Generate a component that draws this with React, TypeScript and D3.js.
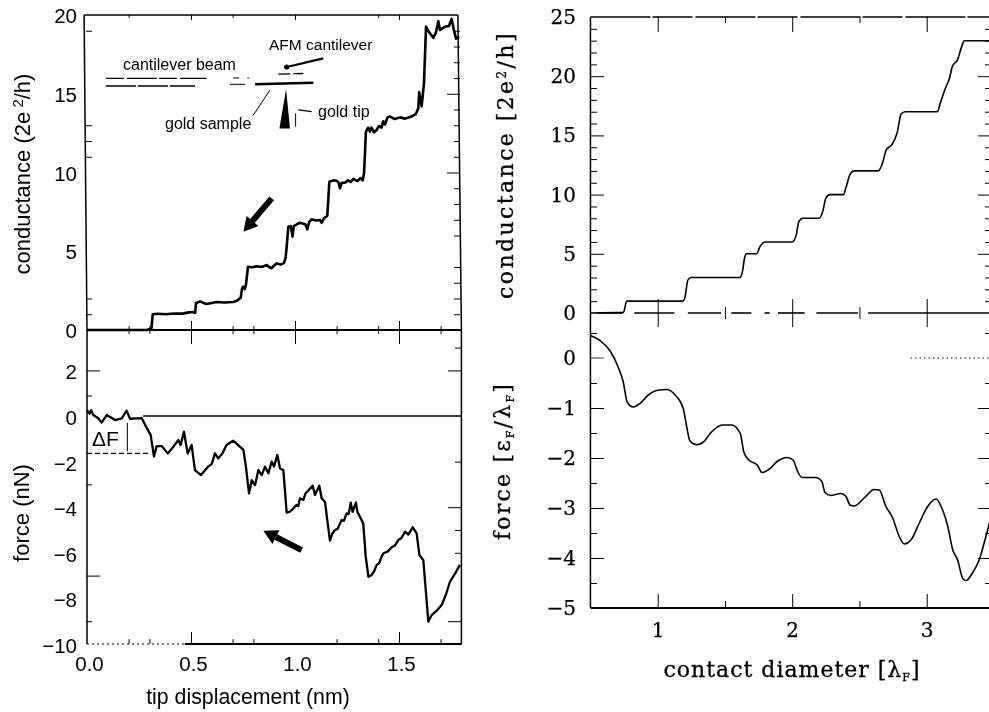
import React, {useEffect, useRef} from 'react';
import * as d3 from 'd3';

type Pt = [number, number];

const sansFont = '"Liberation Sans", Arial, sans-serif';
const serifFont = '"DejaVu Serif", serif';

// left panels: measured conductance and force against tip displacement
const measuredConductance: Pt[] = [
  [0, 0], [.287, 0], [.31, .1], [.316, 1], [.34, 1.03], [.38, 1], [.42, 1.05], [.46, 1.04], [.49, 1.12], [.511, 1.14],
  [.52, 1.08], [.524, 1.7], [.543, 1.82], [.56, 1.72], [.575, 1.65], [.6, 1.72], [.623, 1.78], [.66, 1.75], [.703, 1.78],
  [.72, 1.85], [.739, 2.05], [.745, 2.6], [.751, 2.75], [.758, 2.6], [.764, 2.85], [.774, 4.02], [.795, 3.98],
  [.816, 4.05], [.84, 4], [.864, 4.13], [.875, 4], [.888, 3.92], [.9, 4.1], [.912, 4.23], [.93, 4.15], [.947, 4.25],
  [.955, 4.6], [.96, 5.29], [.968, 6.56], [.98, 6.6], [.988, 5.93], [.994, 6.6], [1.01, 6.72], [1.024, 6.81],
  [1.04, 6.75], [1.05, 6.7], [1.059, 6.39], [1.068, 6.85], [1.08, 7.03], [1.1, 6.95], [1.12, 6.98], [1.128, 6.8],
  [1.14, 7.1], [1.155, 7.24], [1.16, 8.25], [1.165, 9.42], [1.185, 9.5], [1.2, 9.48], [1.21, 9.35], [1.216, 9],
  [1.225, 9.35], [1.24, 9.35], [1.255, 9.5], [1.268, 9.4], [1.28, 9.6], [1.3, 9.45], [1.315, 9.65], [1.325, 9.5],
  [1.332, 9.95], [1.341, 12.6], [1.352, 12.85], [1.36, 12.6], [1.368, 12.85], [1.38, 12.55], [1.392, 12.7],
  [1.404, 12.95], [1.416, 12.85], [1.424, 13.25], [1.432, 13.05], [1.445, 13.5], [1.456, 13.55], [1.48, 13.4],
  [1.505, 13.5], [1.53, 13.42], [1.56, 13.55], [1.58, 13.7], [1.593, 14.07], [1.597, 15.1], [1.609, 14.2],
  [1.62, 15.66], [1.63, 19.26], [1.645, 18.9], [1.665, 18.55], [1.678, 18.9], [1.689, 19.6], [1.697, 19.05],
  [1.72, 19.25], [1.74, 19.3], [1.753, 19.75], [1.764, 19.05], [1.774, 18.5], [1.79, 18.6],
];
const measuredForce: Pt[] = [
  [0, .26], [.012, .1], [.02, .25], [.03, .04], [.054, -.1], [.07, -.29], [.095, .04], [.135, -.18], [.167, -.1],
  [.19, .23], [.207, -.12], [.263, -.09], [.284, -.47], [.306, -.83], [.322, -1.78], [.335, -1.32], [.359, -1.32],
  [.388, -1.64], [.415, -1.35], [.439, -1.05], [.45, -1.27], [.466, -.69], [.484, -1.64], [.503, -1.27], [.519, -2.37],
  [.548, -2.59], [.583, -2.22], [.6, -2.1], [.615, -1.64], [.631, -1.86], [.65, -1.65], [.671, -1.27], [.703, -1.08],
  [.752, -1.49], [.764, -2.22], [.779, -3.39], [.792, -2.81], [.808, -3.03], [.824, -2.37], [.84, -2.59], [.856, -2.22],
  [.872, -2.51], [.888, -2], [.899, -2.22], [.915, -1.71], [.928, -2.3], [.944, -2.37], [.96, -4.24], [.975, -4.2],
  [.992, -4.05], [1.008, -3.9], [1.016, -3.95], [1.024, -3.61], [1.04, -3.68], [1.05, -3.4], [1.064, -3.27],
  [1.085, -3.06], [1.096, -3.46], [1.117, -3.06], [1.128, -3.61], [1.144, -3.76], [1.168, -5.47], [1.18, -5.15],
  [1.192, -5], [1.205, -4.95], [1.224, -4.56], [1.235, -4.6], [1.248, -4.27], [1.258, -4.3], [1.268, -3.8],
  [1.277, -4.2], [1.293, -3.8], [1.3, -4.2], [1.328, -4.71], [1.34, -6.17], [1.353, -7.05], [1.369, -6.97],
  [1.381, -6.8], [1.393, -6.53], [1.405, -6.45], [1.415, -6.2], [1.425, -6.02], [1.445, -5.95], [1.465, -5.76],
  [1.48, -5.68], [1.497, -5.44], [1.512, -5.35], [1.529, -5.07], [1.545, -5.2], [1.566, -4.88], [1.585, -5.15],
  [1.598, -6.1], [1.617, -6.32], [1.641, -9.02], [1.657, -8.73], [1.68, -8.55], [1.705, -8.29], [1.725, -7.85],
  [1.745, -7.27], [1.77, -6.9], [1.793, -6.53],
];

// right panels: calculated curves against contact diameter
const theoryConductance: Pt[] = [
  [.5, 0], [.745, .05], [.77, 1], [.79, 1], [1.186, 1], [1.2, 1.2], [1.225, 2.8], [1.25, 3], [1.61, 3], [1.63, 3.5],
  [1.645, 4.6], [1.66, 5], [1.735, 5], [1.76, 5.6], [1.8, 6], [2, 6], [2.03, 6.6], [2.05, 7.75], [2.08, 8], [2.2, 8],
  [2.23, 8.7], [2.25, 9.7], [2.28, 10], [2.38, 10], [2.4, 10.6], [2.43, 11.7], [2.46, 12], [2.64, 12], [2.67, 12.6],
  [2.7, 13.8], [2.74, 14.2], [2.78, 15.2], [2.81, 16.8], [2.84, 17], [3.08, 17], [3.1, 17.7], [3.14, 19],
  [3.17, 19.85], [3.19, 20.8], [3.23, 21.4], [3.26, 22.5], [3.28, 23], [3.49, 23],
];
const theoryForce: Pt[] = [
  [.5, .45], [.57, .35], [.644, .15], [.706, -.18], [.744, -.48], [.773, -.88], [.818, -.98], [.868, -.91],
  [.93, -.74], [1, -.645], [1.067, -.63], [1.13, -.74], [1.19, -1.01], [1.216, -1.38], [1.24, -1.66], [1.29, -1.735],
  [1.34, -1.68], [1.4, -1.48], [1.48, -1.34], [1.55, -1.34], [1.614, -1.51], [1.64, -1.875], [1.677, -2.04],
  [1.74, -2.14], [1.776, -2.29], [1.826, -2.23], [1.888, -2.07], [1.963, -1.99], [2.007, -2.04], [2.04, -2.27],
  [2.075, -2.39], [2.174, -2.39], [2.22, -2.47], [2.244, -2.69], [2.286, -2.75], [2.36, -2.71], [2.4, -2.77],
  [2.43, -2.94], [2.46, -2.96], [2.535, -2.8], [2.61, -2.63], [2.647, -2.64], [2.697, -2.97], [2.747, -3.2],
  [2.796, -3.57], [2.833, -3.72], [2.883, -3.64], [2.945, -3.3], [3.007, -2.97], [3.07, -2.82], [3.107, -2.97],
  [3.157, -3.37], [3.194, -3.84], [3.23, -4.04], [3.27, -4.42], [3.294, -4.45], [3.34, -4.3], [3.39, -4.04],
  [3.44, -3.57], [3.48, -3.17],
];

// tick labels
const leftGLabels = [0, 5, 10, 15, 20];
const leftFLabels = [2, 0, -2, -4, -6, -8, -10];
const leftXLabels = [0, .5, 1, 1.5];
const rightGLabels = [0, 5, 10, 15, 20, 25];
const rightFLabels = [0, -1, -2, -3, -4, -5];
const rightXLabels = [1, 2, 3];

// tick marks that survive in the scan
const leftXMajor = [.5, 1, 1.5];
const leftXMinor = [.2, .3, .7, .8, 1.2, 1.4, 1.7];
const leftGMinorLeft = [19, 13, 12, 11, 2, 1];
const leftGMinorRight = [19, 18, 17, 16, 14, 13, 12, 11, 9, 8, 7, 6, 4, 3, 2, 1];
const leftGMajorRight = [15, 10];
const leftFMajorLeft = [2, -7];
const leftFMinorLeft = [.9, -3, -9];
const leftFMajorRight = [2, -4, -9];
const leftFMinorRight = [3, -5, -2, -6];
const rightXMajor = [1, 2, 3];
const rightXMinor = [1.5, 2.5];
const rightGMajor = [5, 10, 15, 20];
const rightGMinor = [1, 2, 3, 4, 6, 7, 8, 9, 11, 12, 13, 14, 16, 17, 18, 19, 21, 22, 23, 24];
const rightFMajor = [-1, -2, -3, -4];
const rightFMinor = [.5, -.5, -1.5, -2.5, -3.5, -4.5];

// pieces of the broken zero line in the right conductance panel
const rightZeroDashes: Pt[] = [[.553, .74], [.826, 1.124], [1.224, 1.472], [1.547, 1.696], [1.795, 1.832], [1.894, 2.093], [2.18, 2.49], [2.565, 3.5]];

// inset sketch and arrows, in the units of the left panels
const beamUpper: Pt[] = [[.091, 15.98], [.575, 15.98]];
const beamUpperRest: Pt[] = [[.703, 16], [.78, 16]];
const beamLower: Pt[] = [[.091, 15.49], [.519, 15.49]];
const beamLowerRest: Pt[] = [[.6875, 15.6], [.76, 15.6]];
const goldSampleBar: Pt[] = [[.808, 15.6], [1.088, 15.7]];
const afmBar: Pt[] = [[.92, 16.25], [1.088, 16.3]];
const afmPointer: Pt[] = [[1.136, 17.25], [.96, 16.7]];
const sampleLeader: Pt[] = [[.88, 15.24], [.8, 13.65]];
const tipShape: Pt[] = [[.957, 15.28], [.925, 12.8], [.976, 12.8]];
const tipBracket: Pt[] = [[1.003, 12.9], [1.003, 13.76]];
const tipLeader: Pt[] = [[1.016, 13.97], [1.08, 13.86]];
const conductanceArrow: Pt[] = [[.888, 8.36], [.752, 6.24]];
const forceArrow: Pt[] = [[1.032, -5.88], [.848, -5.03]];
const forceZero: Pt[] = [[.27, 0], [1.8, 0]];
const deltaDash: Pt[] = [[0, -1.64], [.3, -1.64]];
const deltaBar: Pt[] = [[.194, -.3], [.194, -1.55]];

function App() {
  const svgRef = useRef<SVGSVGElement>(null);

  useEffect(() => {
    const root = d3.select(svgRef.current);
    root.selectAll('*').remove();

    // the reference is a soft scan
    root.append('defs').append('filter').attr('id', 'scan')
      .append('feGaussianBlur').attr('stdDeviation', .4);
    const svg = root.append('g').attr('filter', 'url(#scan)');
    svg.append('rect').attr('width', 989).attr('height', 712).attr('fill', '#fff');

    const lx = d3.scaleLinear().domain([0, 1.8]).range([87, 461.4]);
    const lyG = d3.scaleLinear().domain([0, 20]).range([330, 15]);
    const lyF = d3.scaleLinear().domain([0, -10]).range([416, 644]);
    const rx = d3.scaleLinear().domain([1, 3]).range([657.7, 926.7]);
    const ryG = d3.scaleLinear().domain([0, 25]).range([313, 17]);
    const ryF = d3.scaleLinear().domain([0, -5]).range([358, 608]);

    const path = (pts: Pt[], xs: any, ys: any, width: number, dash?: string, curve?: any) => {
      const gen = d3.line<Pt>().x(d => xs(d[0])).y(d => ys(d[1]));
      if (curve) gen.curve(curve);
      svg.append('path').attr('d', gen(pts)).attr('fill', 'none').attr('stroke', '#000')
        .attr('stroke-width', width).attr('stroke-dasharray', dash ?? null).attr('stroke-linejoin', 'round');
    };

    // draws only tick marks, labels come from labels()
    const ticks = (axis: any, scale: any, values: number[], len: number, x: number, y: number, width = 1) => {
      const g = svg.append('g').attr('transform', `translate(${x},${y})`)
        .call(axis(scale).tickValues(values).tickSize(len).tickFormat(() => ''));
      g.select('.domain').remove();
      g.selectAll('line').attr('stroke', '#000').attr('stroke-width', width);
    };

    const labels = (axis: any, scale: any, values: number[], fmt: string, x: number, y: number, font: string, size: number, weight = 0) => {
      const g = svg.append('g').attr('transform', `translate(${x},${y})`)
        .call(axis(scale).tickValues(values).tickSize(0).tickPadding(0).tickFormat(d3.format(fmt)));
      g.select('.domain').remove();
      g.selectAll('line').remove();
      g.selectAll('text').attr('fill', '#000').attr('stroke', weight ? '#000' : null).attr('stroke-width', weight || null)
        .style('font-family', font).style('font-size', size + 'px');
    };

    const text = (s: string, x: number, y: number, size: number, font = sansFont) =>
      svg.append('text').attr('x', x).attr('y', y).attr('fill', '#000').style('font-family', font).style('font-size', size + 'px').text(s);

    const arrow = (pts: Pt[], ys: any, width: number, head: number) => {
      const [a, b] = pts;
      const x0 = lx(a[0]), y0 = ys(a[1]), x1 = lx(b[0]), y1 = ys(b[1]);
      const ang = Math.atan2(y1 - y0, x1 - x0);
      const bx = x1 - head * Math.cos(ang), by = y1 - head * Math.sin(ang);
      svg.append('line').attr('x1', x0).attr('y1', y0).attr('x2', bx).attr('y2', by)
        .attr('stroke', '#000').attr('stroke-width', width);
      const side = head * .55;
      svg.append('polygon').attr('fill', '#000').attr('points', [
        [x1, y1],
        [bx + side * Math.sin(ang), by - side * Math.cos(ang)],
        [bx - side * Math.sin(ang), by + side * Math.cos(ang)],
      ].join(' '));
    };

    // ---- left frame (the scan is slightly tilted, so the top leans left)
    const leftFrame: Pt[] = [[-.014, 20], [1.783, 20]];
    path(leftFrame, lx, lyG, 1.5);
    path([[-.014, 20], [0, 0]], lx, lyG, 1.5);
    path([[1.783, 20], [1.8, 0]], lx, lyG, 1.5);
    path([[0, 0], [1.8, 0]], lx, lyG, 2.2);
    path([[0, 3.77], [0, -10]], lx, lyF, 1.5);
    path([[1.8, 3.77], [1.8, -10]], lx, lyF, 1.5);
    path([[0, -10], [.47, -10]], lx, lyF, 1.2, '2 3');
    path([[.47, -10], [1.8, -10]], lx, lyF, 1.8);

    ticks(d3.axisBottom, lx, leftXMajor, 5, 0, 15);
    ticks(d3.axisBottom, lx, [.2, .7, 1.4, 1.5], 3, 0, 15);
    ticks(d3.axisTop, lx, leftXMajor, 9, 0, 330);
    ticks(d3.axisBottom, lx, leftXMajor, 14, 0, 330);
    ticks(d3.axisTop, lx, leftXMinor, 4, 0, 330);
    ticks(d3.axisBottom, lx, leftXMinor, 4, 0, 330);
    ticks(d3.axisTop, lx, [.5, 1.5], 12, 0, 644);
    ticks(d3.axisTop, lx, leftXMinor, 5, 0, 644);
    ticks(d3.axisRight, lyG, leftGMinorLeft, 6, 86, 0);
    ticks(d3.axisLeft, lyG, leftGMinorRight, 6, 460, 0);
    ticks(d3.axisLeft, lyG, leftGMajorRight, 13, 460, 0);
    ticks(d3.axisRight, lyF, leftFMajorLeft, 13, 87, 0);
    ticks(d3.axisRight, lyF, leftFMinorLeft, 5, 87, 0);
    ticks(d3.axisLeft, lyF, leftFMajorRight, 13, 461, 0);
    ticks(d3.axisLeft, lyF, leftFMinorRight, 6, 461, 0);

    labels(d3.axisLeft, lyG, leftGLabels, 'd', 77, 1, sansFont, 20.5);
    labels(d3.axisLeft, lyF, leftFLabels, 'd', 77, 2, sansFont, 20.5);
    labels(d3.axisBottom, lx, leftXLabels, '.1f', 2, 656, sansFont, 20.5);

    path(measuredConductance, lx, lyG, 2.6);
    path(measuredForce, lx, lyF, 2.3);
    path(forceZero, lx, lyF, 1.4);
    path(deltaDash, lx, lyF, 1.4, '5 3');
    path(deltaBar, lx, lyF, 1);
    text('ΔF', 92, 446, 21);

    // inset sketch
    path(beamUpper, lx, lyG, 1.3, '18 3 30 2');
    path(beamUpperRest, lx, lyG, 1, '6 8 10');
    path(beamLower, lx, lyG, 1.5, '30 2');
    path(beamLowerRest, lx, lyG, 1);
    path(goldSampleBar, lx, lyG, 2.4);
    path(afmBar, lx, lyG, 1.3, '12 3 10 12');
    path(afmPointer, lx, lyG, 2.2);
    path(sampleLeader, lx, lyG, 1);
    path(tipBracket, lx, lyG, 1);
    path(tipLeader, lx, lyG, 1.3);
    svg.append('polygon').attr('fill', '#000').attr('points', tipShape.map(d => [lx(d[0]), lyG(d[1])].join(',')).join(' '));
    svg.append('circle').attr('cx', lx(.96)).attr('cy', lyG(16.7)).attr('r', 2.6).attr('fill', '#000');
    text('cantilever beam', 123, 70, 16);
    text('AFM cantilever', 269, 50, 15.5);
    text('gold sample', 165, 129, 16);
    text('gold tip', 318, 117, 16);
    arrow(conductanceArrow, lyG, 6, 14);
    arrow(forceArrow, lyF, 6, 14);

    // left axis titles
    const titleG = svg.append('text').attr('transform', 'translate(30,174) rotate(-90)').attr('text-anchor', 'middle')
      .attr('fill', '#000').style('font-family', sansFont).style('font-size', '22px');
    titleG.append('tspan').text('conductance (2e');
    titleG.append('tspan').attr('dy', -7).style('font-size', '15px').text(' 2');
    titleG.append('tspan').attr('dy', 7).text('/h)');
    svg.append('text').attr('transform', 'translate(29,513) rotate(-90)').attr('text-anchor', 'middle')
      .attr('fill', '#000').style('font-family', sansFont).style('font-size', '22px').text('force (nN)');
    svg.append('text').attr('x', 248).attr('y', 704).attr('text-anchor', 'middle')
      .attr('fill', '#000').style('font-family', sansFont).style('font-size', '21.3px').text('tip displacement (nm)');

    // ---- right frame
    path([[.5, 25], [3.5, 25]], rx, ryG, 1.5, '60 2 40 3');
    path([[.5, 25], [.5, 0]], rx, ryG, 1.5);
    path([[.5, .9], [.5, -5]], rx, ryF, 1.5);
    path([[.5, -5], [3.5, -5]], rx, ryF, 1.8);
    rightZeroDashes.forEach(([a, b]) => path([[a, 0], [b, 0]], rx, ryG, 1.6));
    path([[.5, 0], [.6, 0]], rx, ryF, .8);
    path([[2.88, 0], [3.5, 0]], rx, ryF, 1, '1.5 3');

    ticks(d3.axisBottom, rx, rightXMajor, 15, 0, 17);
    ticks(d3.axisBottom, rx, rightXMinor, 6, 0, 17);
    ticks(d3.axisTop, rx, rightXMajor, 14, 0, 313);
    ticks(d3.axisBottom, rx, rightXMajor, 14, 0, 313);
    ticks(d3.axisTop, rx, rightXMinor, 6, 0, 313);
    ticks(d3.axisBottom, rx, rightXMinor, 6, 0, 313);
    ticks(d3.axisTop, rx, rightXMajor, 14, 0, 608);
    ticks(d3.axisTop, rx, rightXMinor, 7, 0, 608);
    ticks(d3.axisRight, ryG, rightGMajor, 14, 590, 0);
    ticks(d3.axisRight, ryG, rightGMinor, 7, 590, 0);
    ticks(d3.axisRight, ryF, rightFMajor, 14, 590, 0);
    ticks(d3.axisRight, ryF, rightFMinor, 7, 590, 0);
    ticks(d3.axisLeft, ryG, rightGMajor, 14, 992, 0);
    ticks(d3.axisLeft, ryG, rightGMinor, 7, 992, 0);
    ticks(d3.axisLeft, ryF, rightFMajor, 14, 992, 0);
    ticks(d3.axisLeft, ryF, rightFMinor, 7, 992, 0);

    labels(d3.axisLeft, ryG, rightGLabels, 'd', 576, 0, serifFont, 20, .25);
    labels(d3.axisLeft, ryF, rightFLabels, 'd', 576, 0, serifFont, 20, .25);
    labels(d3.axisBottom, rx, rightXLabels, 'd', 0, 623, serifFont, 20, .25);

    path(theoryConductance, rx, ryG, 1.6, undefined, d3.curveMonotoneX);
    path(theoryForce, rx, ryF, 1.6, undefined, d3.curveMonotoneX);

    // right axis titles, heavier and wider than plain DejaVu Serif in the figure
    const rightTitle = (transform: string, size: number, spacing: number) =>
      svg.append('text').attr('transform', transform).attr('text-anchor', 'middle').attr('fill', '#000')
        .attr('stroke', '#000').attr('stroke-width', .3)
        .style('font-family', serifFont).style('font-size', size + 'px').style('letter-spacing', spacing + 'px');
    const rg = rightTitle('translate(513,165) rotate(-90)', 22, 2.4);
    rg.append('tspan').text('conductance [2e');
    rg.append('tspan').attr('dy', -7).style('font-size', '12px').text('2');
    rg.append('tspan').attr('dy', 7).text('/h]');
    const rf = rightTitle('translate(510,461) rotate(-90)', 22, 2.2);
    rf.append('tspan').text('force [ε');
    rf.append('tspan').attr('dy', 4).style('font-size', '11px').text('F');
    rf.append('tspan').attr('dy', -4).text('/λ');
    rf.append('tspan').attr('dy', 4).style('font-size', '11px').text('F');
    rf.append('tspan').attr('dy', -4).text(']');
    const rc = rightTitle('translate(792,677)', 22, 1);
    rc.append('tspan').text('contact diameter [λ');
    rc.append('tspan').attr('dy', 4).style('font-size', '11px').text('F');
    rc.append('tspan').attr('dy', -4).text(']');
  }, []);

  return (
    <svg ref={svgRef} width={989} height={712} style={{position: 'absolute', left: 0, top: 0, background: '#fff'}} />
  );
}

export default App;
